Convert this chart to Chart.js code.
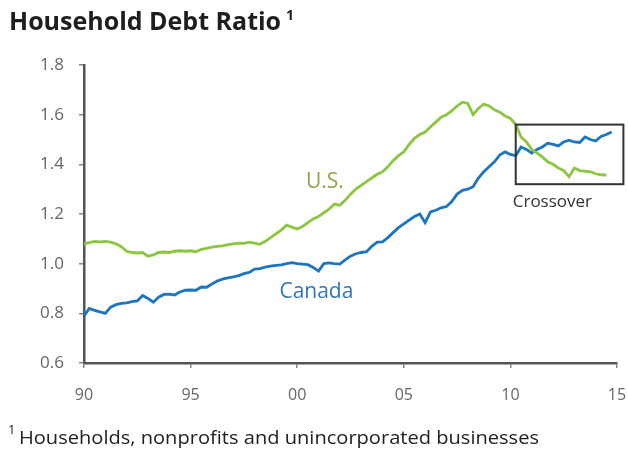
<!DOCTYPE html>
<html>
<head>
<meta charset="utf-8">
<script src="https://cdn.jsdelivr.net/npm/chart.js@4.4.0/dist/chart.umd.min.js"></script>
<style>
  body { margin: 0; background: #fff; }
  #wrap { width: 628px; height: 452px; }
</style>
</head>
<body>
<div id="wrap"><canvas id="debt" width="628" height="452"></canvas></div>
<script>
// quarterly observations, 1990Q1 .. 2014Q4
const firstYear = 1990;
const usRatio = [
  1.080, 1.085, 1.090, 1.088,  1.090, 1.087, 1.080, 1.068,  // 90-91
  1.050, 1.045, 1.043, 1.045,  1.030, 1.035, 1.045, 1.047,  // 92-93
  1.045, 1.050, 1.052, 1.050,  1.052, 1.048, 1.058, 1.062,  // 94-95
  1.067, 1.070, 1.072, 1.077,  1.080, 1.083, 1.082, 1.087,  // 96-97
  1.083, 1.078, 1.090, 1.105,  1.120, 1.135, 1.155, 1.147,  // 98-99
  1.140, 1.150, 1.165, 1.180,  1.190, 1.205, 1.220, 1.240,  // 00-01
  1.235, 1.255, 1.280, 1.300,  1.315, 1.330, 1.345, 1.360,  // 02-03
  1.370, 1.390, 1.415, 1.435,  1.450, 1.480, 1.505, 1.520,  // 04-05
  1.530, 1.550, 1.570, 1.590,  1.600, 1.615, 1.635, 1.650,  // 06-07
  1.645, 1.600, 1.625, 1.643,  1.635, 1.620, 1.610, 1.595,  // 08-09
  1.585, 1.560, 1.510, 1.490,  1.460, 1.445, 1.430, 1.410,  // 10-11
  1.400, 1.385, 1.375, 1.350,  1.385, 1.375, 1.373, 1.370,  // 12-13
  1.362, 1.358, 1.357, null                                 // 14
];
const canadaRatio = [
  0.790, 0.820, 0.812, 0.806,  0.800, 0.825, 0.835, 0.840,  // 90-91
  0.842, 0.847, 0.850, 0.872,  0.860, 0.845, 0.865, 0.876,  // 92-93
  0.877, 0.874, 0.886, 0.893,  0.894, 0.893, 0.906, 0.905,  // 94-95
  0.918, 0.930, 0.938, 0.943,  0.947, 0.952, 0.960, 0.965,  // 96-97
  0.978, 0.980, 0.986, 0.990,  0.993, 0.995, 1.000, 1.004,  // 98-99
  1.000, 0.998, 0.996, 0.985,  0.970, 1.000, 1.003, 1.000,  // 00-01
  0.998, 1.015, 1.030, 1.040,  1.045, 1.048, 1.070, 1.087,  // 02-03
  1.088, 1.105, 1.125, 1.145,  1.160, 1.175, 1.190, 1.200,  // 04-05
  1.165, 1.208, 1.215, 1.225,  1.230, 1.250, 1.280, 1.295,  // 06-07
  1.300, 1.310, 1.345, 1.370,  1.390, 1.410, 1.437, 1.450,  // 08-09
  1.440, 1.435, 1.470, 1.460,  1.445, 1.460, 1.470, 1.485,  // 10-11
  1.480, 1.474, 1.490, 1.497,  1.490, 1.488, 1.510, 1.500,  // 12-13
  1.494, 1.512, 1.520, 1.530                                // 14
];
const xTickYears = [1990, 1995, 2000, 2005, 2010, 2015];
const xTickLabels = ['90', '95', '00', '05', '10', '15'];
const yTicks = [0.6, 0.8, 1.0, 1.2, 1.4, 1.6, 1.8];

// crossover box in data units
const boxYears = [2010.25, 2015.3];
const boxRatio = [1.32, 1.56];

const titleText = 'Household Debt Ratio';
const footText = 'Households, nonprofits and unincorporated businesses';

const GREEN = '#8cc640';
const BLUE = '#1c75c0';
const AXIS = '#555555';
const FONT = '"Open Sans", "Noto Sans", sans-serif';

function toPoints(arr) {
  return arr.map((v, i) => ({ x: firstYear + i / 4, y: v }));
}

// draws title, footnote, series names and the crossover box
const extras = {
  id: 'extras',
  afterDraw(chart) {
    const { ctx, scales: { x, y } } = chart;
    ctx.save();

    // title
    ctx.fillStyle = '#1e1e1e';
    ctx.textBaseline = 'alphabetic';
    ctx.textAlign = 'left';
    ctx.font = 'bold 25px ' + FONT;
    ctx.fillText(titleText, 9, 30);
    const tw = ctx.measureText(titleText).width;
    ctx.font = 'bold 14px ' + FONT;
    ctx.fillText('1', 9 + tw + 5, 20);

    // footnote
    ctx.fillStyle = '#222';
    ctx.font = '13px ' + FONT;
    ctx.fillText('1', 8, 434);
    ctx.font = '19px ' + FONT;
    const fw = ctx.measureText(footText).width;
    ctx.save();
    ctx.translate(19, 444);
    ctx.scale(520 / fw, 1);
    ctx.fillText(footText, 0, 0);
    ctx.restore();

    // series names
    ctx.textAlign = 'center';
    ctx.textBaseline = 'middle';
    ctx.font = '21px ' + FONT;
    ctx.fillStyle = '#8fa648';
    ctx.fillText('U.S.', x.getPixelForValue(2001.3), y.getPixelForValue(1.33));
    ctx.fillStyle = '#2f77b9';
    ctx.fillText('Canada', x.getPixelForValue(2000.9), y.getPixelForValue(0.886));

    // crossover box
    const bx0 = x.getPixelForValue(boxYears[0]);
    const bx1 = x.getPixelForValue(boxYears[1]);
    const by0 = y.getPixelForValue(boxRatio[1]);
    const by1 = y.getPixelForValue(boxRatio[0]);
    ctx.strokeStyle = '#333';
    ctx.lineWidth = 2;
    ctx.strokeRect(bx0, by0, bx1 - bx0, by1 - by0);
    ctx.fillStyle = '#333';
    ctx.font = '17px ' + FONT;
    ctx.textAlign = 'left';
    ctx.fillText('Crossover', bx0 - 3, by1 + 18);

    ctx.restore();
  }
};

new Chart(document.getElementById('debt'), {
  type: 'line',
  data: {
    datasets: [
      {
        label: 'U.S.',
        data: toPoints(usRatio),
        borderColor: GREEN,
        borderWidth: 2.8,
        pointRadius: 0,
        tension: 0,
        spanGaps: false
      },
      {
        label: 'Canada',
        data: toPoints(canadaRatio),
        borderColor: BLUE,
        borderWidth: 2.8,
        pointRadius: 0,
        tension: 0
      }
    ]
  },
  options: {
    responsive: false,
    animation: false,
    layout: { padding: { left: 0, top: 65, right: 0, bottom: 0 } },
    plugins: {
      legend: { display: false },
      tooltip: { enabled: false }
    },
    scales: {
      x: {
        type: 'linear',
        min: 1990,
        max: 2015,
        afterFit(scale) {
          scale.height = 89;
          scale.paddingLeft = 0;
          scale.paddingRight = 11;
        },
        afterBuildTicks(scale) { scale.ticks = xTickYears.map(v => ({ value: v })); },
        ticks: {
          color: '#666',
          font: { family: FONT, size: 16 },
          padding: 18,
          maxRotation: 0,
          callback: (v) => xTickLabels[xTickYears.indexOf(v)]
        },
        grid: { drawOnChartArea: false, tickLength: 5, color: '#888', lineWidth: 1.5 },
        border: { color: AXIS, width: 2.5 }
      },
      y: {
        min: 0.6,
        max: 1.8,
        afterFit(scale) {
          scale.width = 84;
          scale.paddingTop = 0;
          scale.paddingBottom = 0;
        },
        afterBuildTicks(scale) { scale.ticks = yTicks.map(v => ({ value: v })); },
        ticks: {
          color: '#666',
          font: { family: FONT, size: 17 },
          padding: 15,
          callback: (v) => v.toFixed(1)
        },
        grid: { drawOnChartArea: false, tickLength: 5, color: '#888', lineWidth: 1.5 },
        border: { color: AXIS, width: 2.5 }
      }
    }
  },
  plugins: [extras]
});
</script>
</body>
</html>
